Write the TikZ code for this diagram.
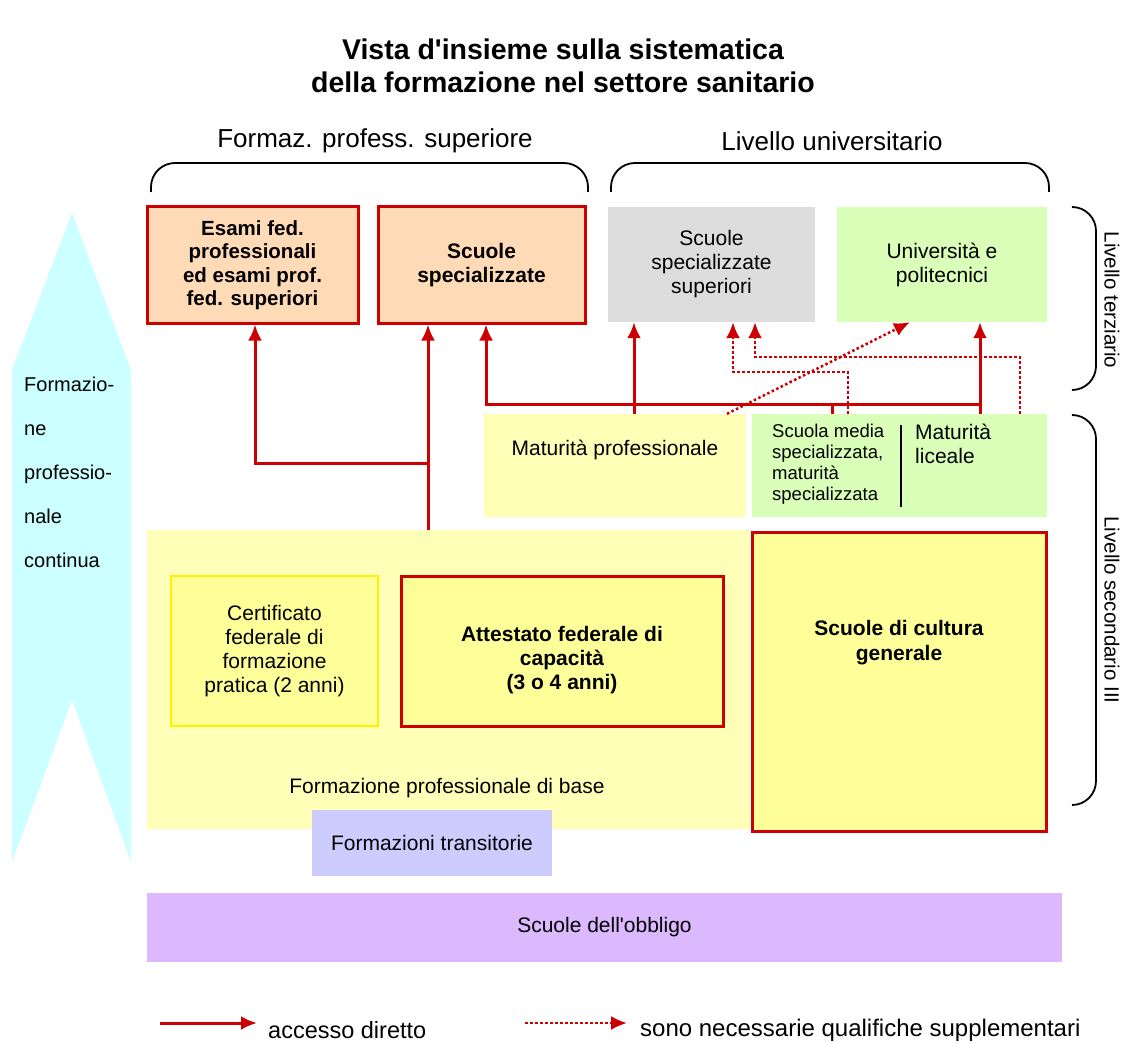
\documentclass[tikz,border=0pt]{standalone}
\usepackage{fontspec}
\setmainfont{Liberation Sans}
\usetikzlibrary{arrows.meta}
\definecolor{rosso}{RGB}{204,0,0}
\definecolor{pesca}{RGB}{255,218,182}
\definecolor{grigio}{RGB}{221,221,221}
\definecolor{verde}{RGB}{218,255,184}
\definecolor{giallino}{RGB}{255,255,184}
\definecolor{giallo}{RGB}{255,255,153}
\definecolor{lilla}{RGB}{204,204,255}
\definecolor{viola}{RGB}{220,184,255}
\definecolor{azzurro}{RGB}{204,255,255}
\tikzset{>={Latex[length=16pt,width=14pt]}}
\tikzset{
    box/.style={inner sep=0pt, align=center, font=\fontsize{21}{24}\selectfont},
    bordo/.style={box, draw=rosso, line width=3pt},
    accesso/.style={->, rosso, line width=3pt},
    linea/.style={rosso, line width=3pt},
    suppl/.style={->, rosso, line width=2.5pt, dash pattern=on 2.5pt off 2.5pt},
    graffa/.style={line width=1.8pt, rounded corners=24pt}
}

\begin{document}
\begin{tikzpicture}[x=1pt, y=-1pt]
    \useasboundingbox (0,0) rectangle (1127,1043);
    % titolo
    \node[align=center, font=\bfseries\fontsize{28.5}{33}\selectfont] (titolo) at (563,66) {Vista d\textquotesingle insieme sulla sistematica\\della formazione nel settore sanitario};
    \node[font=\fontsize{26}{30}\selectfont] (fps) at (375,141) {Formaz. profess. superiore};
    \node[font=\fontsize{26}{30}\selectfont] (univ) at (832,141) {Livello universitario};
    \draw[graffa] (151,192) -- (151,163) -- (588,163) -- (588,192);
    \draw[graffa] (611,192) -- (611,163) -- (1049,163) -- (1049,192);
    \draw[graffa] (1072,207) -- (1096,207) -- (1096,390) -- (1072,390);
    \draw[graffa] (1072,415) -- (1096,415) -- (1096,805) -- (1072,805);
    \node[rotate=-90, font=\fontsize{20.5}{24}\selectfont] (terz) at (1112,300) {Livello terziario};
    \node[rotate=-90, font=\fontsize{20.5}{24}\selectfont] (sec) at (1112,610) {Livello secondario III};

    % freccia formazione continua
    \fill[azzurro] (72,213) -- (131,370) -- (131,862) -- (72,700) -- (12,862) -- (12,370) -- cycle;
    \node[anchor=north west, inner sep=0pt, align=left, font=\fontsize{20}{44}\selectfont] (cont) at (24,377) {Formazio-\\ne\\professio-\\nale\\continua};

    % livello terziario
    \node[bordo, fill=pesca, minimum width=211pt, minimum height=116pt, font=\bfseries\fontsize{20.5}{23.5}\selectfont] (esami) at (252.5,265) {Esami fed.\\professionali\\ed esami prof.\\fed. superiori};
    \node[bordo, fill=pesca, minimum width=207pt, minimum height=116pt, font=\bfseries\fontsize{21}{24}\selectfont] (scspec) at (481.5,265) {Scuole\\specializzate};
    \node[box, fill=grigio, minimum width=207pt, minimum height=115pt] (scsup) at (711.5,264.5) {Scuole\\specializzate\\superiori};
    \node[box, fill=verde, minimum width=210pt, minimum height=115pt] (uni) at (942,264.5) {Università e\\politecnici};

    % livello secondario
    \node[box, fill=giallino, minimum width=262pt, minimum height=103pt] (matprof) at (615,465.5) {};
    \node[box] (matproft) at (615,450) {Maturità professionale};
    \node[box, fill=verde, minimum width=295pt, minimum height=103pt] (matlic) at (899.5,465.5) {};
    \node[anchor=north west, inner sep=0pt, align=left, font=\fontsize{18.5}{21}\selectfont] (smsp) at (772,424) {Scuola media\\specializzata,\\maturità\\specializzata};
    \node[anchor=north west, inner sep=0pt, align=left, font=\fontsize{21}{24}\selectfont] (lic) at (915,424) {Maturità\\liceale};
    \draw[line width=2pt] (901,425) -- (901,507);

    \node[box, fill=giallino, minimum width=603pt, minimum height=299pt] (base) at (448.5,679.5) {};
    \node[box] (baset) at (447,788) {Formazione professionale di base};
    \node[box, draw=yellow, line width=2pt, fill=giallo, minimum width=207pt, minimum height=150pt] (cert) at (274.5,651) {Certificato\\federale di\\formazione\\pratica (2 anni)};
    \node[bordo, fill=giallo, minimum width=322pt, minimum height=150pt] (afc) at (562,651) {};
    \node[box, font=\bfseries\fontsize{21}{24}\selectfont] (afct) at (562,660) {Attestato federale di\\capacità\\(3 o 4 anni)};
    \node[bordo, fill=giallo, minimum width=294pt, minimum height=299pt] (cultura) at (899,681.5) {};
    \node[box, font=\bfseries\fontsize{21}{25}\selectfont] (culturat) at (899,643) {Scuole di cultura\\generale};
    \node[box, fill=lilla, minimum width=240pt, minimum height=66pt] (trans) at (432,843) {Formazioni transitorie};
    \node[box, fill=viola, minimum width=915pt, minimum height=69pt] (obbligo) at (604.5,927.5) {Scuole dell\textquotesingle obbligo};

    % accessi diretti
    \coordinate (c1) at (428,463);
    \coordinate (c3) at (634,0);
    \coordinate (c4) at (486,404);
    \coordinate (c5) at (980,404);
    \coordinate (c6) at (832,404);
    \draw[accesso] (base.north -| c1) -- (scspec.south -| c1);
    \draw[accesso] (c1) -| (esami.south -| 255,0);
    \draw[accesso] (matprof.north -| c3) -- (scsup.south -| c3);
    \draw[accesso] (matlic.north -| c5) -- (uni.south -| c5);
    \draw[accesso] (c5) -- (c4) -- (scspec.south -| c4);
    \draw[linea] (matlic.north -| c6) -- (c6);

    % qualifiche supplementari
    \coordinate (d1) at (848,372);
    \coordinate (d2) at (733,372);
    \coordinate (d3) at (1020,357);
    \coordinate (d4) at (755,357);
    \coordinate (d5) at (727,0);
    \coordinate (d6) at (910,0);
    \draw[suppl] (matprof.north -| d5) -- (uni.south -| d6);
    \draw[suppl] (matlic.north -| d1) -- (d1) -- (d2) -- (scsup.south -| d2);
    \draw[suppl] (matlic.north -| d3) -- (d3) -- (d4) -- (scsup.south -| d4);

    % legenda
    \coordinate (l1) at (160,1023);
    \coordinate (l2) at (257,1023);
    \coordinate (l3) at (525,1023);
    \coordinate (l4) at (627,1023);
    \draw[accesso] (l1) -- (l2);
    \draw[suppl] (l3) -- (l4);
    \node[anchor=west, inner sep=0pt, font=\fontsize{23.5}{26}\selectfont] (leg1) at (268,1030) {accesso diretto};
    \node[anchor=west, inner sep=0pt, font=\fontsize{24}{26}\selectfont] (leg2) at (640,1030) {sono necessarie qualifiche supplementari};
\end{tikzpicture}
\end{document}
